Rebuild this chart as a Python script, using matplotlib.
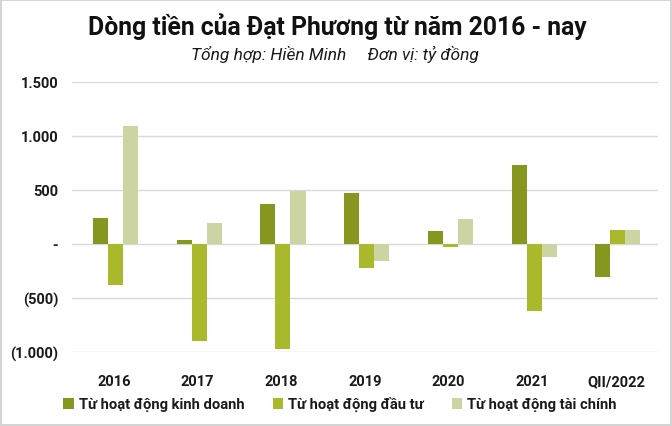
import matplotlib
matplotlib.use("Agg")
import matplotlib.pyplot as plt
import numpy as np

categories = ["2016", "2017", "2018", "2019", "2020", "2021", "QII/2022"]
kinh_doanh = [240, 37, 370, 472, 120, 731, -302]
dau_tu = [-377, -895, -972, -219, -25, -620, 130]
tai_chinh = [1090, 194, 494, -157, 231, -117, 130]
series_names = ["Từ hoạt động kinh doanh", "Từ hoạt động đầu tư", "Từ hoạt động tài chính"]
ytick_values = [-1000, -500, 0, 500, 1000, 1500]
ytick_labels = ["(1.000)", "(500)", "-", "500", "1.000", "1.500"]

colors = ["#86961f", "#aab92b", "#ccd4a4"]
FONT = ["Roboto", "DejaVu Sans"]
plt.rcParams["font.family"] = FONT

fig = plt.figure(figsize=(6.72, 4.27), dpi=100)
fig.patch.set_facecolor("white")
fig.patch.set_edgecolor("#d4d4d4")
fig.patch.set_linewidth(1.5)

ax = fig.add_axes([72/672, 1-353/427, (658-72)/672, (353-83)/427])
x = np.arange(len(categories))
w = 0.18
for i, (vals, name) in enumerate(zip([kinh_doanh, dau_tu, tai_chinh], series_names)):
    ax.bar(x + (i - 1) * w + 0.02, vals, width=w, color=colors[i], label=name, zorder=3)

ax.set_ylim(-1000, 1500)
ax.set_xlim(-0.5, len(categories) - 0.5)
ax.set_yticks(ytick_values)
ax.set_yticklabels(ytick_labels, fontsize=10.5, fontweight="bold", color="#1a1a1a")
ax.set_xticks(x)
ax.set_xticklabels(categories, fontsize=10.5, fontweight="bold", color="#1a1a1a")
ax.tick_params(axis="both", length=0)
ax.tick_params(axis="y", pad=10)
ax.tick_params(axis="x", pad=16)
ax.grid(axis="y", color="#d9d9d9", linewidth=1.0, zorder=0)
for s in ax.spines.values():
    s.set_visible(False)

fig.text(337/672, 1-27/427, "Dòng tiền của Đạt Phương từ năm 2016 - nay", ha="center", va="center",
         fontsize=17.8, fontweight="bold", color="#111111")
fig.text(335/672, 1-54/427, "Tổng hợp: Hiền Minh     Đơn vị: tỷ đồng", ha="center", va="center",
         fontsize=12.5, fontstyle="italic", fontweight="normal", color="#1a1a1a")

fig.legend(loc="center", bbox_to_anchor=(340/672, 1-405/427), ncol=3, frameon=False,
           handlelength=0.7, handleheight=0.7, handletextpad=0.35, columnspacing=1.9,
           prop={"weight": "bold", "size": 10.6}, labelcolor="#1a1a1a")

fig.savefig("out.png", dpi=100, facecolor="white", edgecolor=fig.patch.get_edgecolor())
